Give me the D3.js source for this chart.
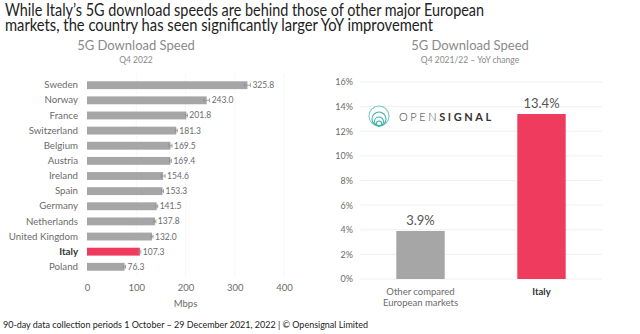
<!DOCTYPE html>
<html>
<head>
<meta charset="utf-8">
<script src="https://cdn.jsdelivr.net/npm/d3@7"></script>
<style>
  html, body { margin: 0; padding: 0; background: #fff; }
  svg { display: block; font-family: Lato, "Open Sans", sans-serif; }
</style>
</head>
<body>
<svg id="chart" width="640" height="334"></svg>
<script>
/* Opensignal 5G download speed: Q4 2022 + YoY change */

const countries = ['Sweden', 'Norway', 'France', 'Switzerland', 'Belgium', 'Austria', 'Ireland',
    'Spain', 'Germany', 'Netherlands', 'United Kingdom', 'Italy', 'Poland'];
const speeds = [325.8, 243.0, 201.8, 181.3, 169.5, 169.4, 154.6, 153.3, 141.5, 137.8, 132.0, 107.3, 76.3];
const speedErr = [6, 6, 2, 2, 3, 2, 4, 2, 2, 2, 2, 2, 2];
const speedTicks = [0, 100, 200, 300, 400];

const yoyGroups = ['Other compared|European markets', 'Italy'];
const yoyValues = [3.9, 13.4];
const yoyTicks = [0, 2, 4, 6, 8, 10, 12, 14, 16];

const GREY = '#a6a6a6';
const RED = '#ef3b5e';
const TEXT = '#6b6b6b';

const svg = d3.select('#chart');

// Headline (one text, two lines)
const headline = svg.append('text')
    .attr('font-size', 16.5).attr('fill', '#222');
headline.append('tspan')
    .attr('x', 5).attr('y', 15.5)
    .attr('textLength', 479).attr('lengthAdjust', 'spacingAndGlyphs')
    .text('While Italy\u2019s 5G download speeds are behind those of other major European');
headline.append('tspan')
    .attr('x', 5).attr('y', 31)
    .attr('textLength', 428).attr('lengthAdjust', 'spacingAndGlyphs')
    .text('markets, the country has seen significantly larger YoY improvement');

// Panel titles
function panelTitle(cx, sub) {
    svg.append('text').attr('x', cx).attr('y', 50)
        .attr('text-anchor', 'middle').attr('font-size', 13).attr('fill', '#8a8a8a')
        .text('5G Download Speed');
    svg.append('text').attr('x', cx).attr('y', 63)
        .attr('text-anchor', 'middle').attr('font-size', 8.5).attr('fill', '#8a8a8a')
        .text(sub);
}
panelTitle(136, 'Q4 2022');
panelTitle(470, 'Q4 2021/22 \u2013 YoY change');

// ---- Left: horizontal bars
const x = d3.scaleLinear().domain([0, 400]).range([87, 284]);
const y = d3.scaleBand().domain(countries).range([74, 278]).padding(0.48);

const left = svg.append('g');

left.append('g')
    .selectAll('line')
    .data(speedTicks.slice(1))
    .join('line')
    .attr('x1', d => x(d)).attr('x2', d => x(d))
    .attr('y1', 74).attr('y2', 278)
    .attr('stroke', '#ececec').attr('stroke-width', 0.8)
    .attr('stroke-dasharray', '1,1');

left.append('g')
    .selectAll('rect')
    .data(countries)
    .join('rect')
    .attr('x', x(0))
    .attr('y', d => y(d))
    .attr('width', (d, i) => x(speeds[i]) - x(0))
    .attr('height', y.bandwidth())
    .attr('fill', d => d === 'Italy' ? RED : GREY);

// confidence whiskers
left.append('g')
    .selectAll('path')
    .data(countries)
    .join('path')
    .attr('d', (d, i) => {
        const cy = y(d) + y.bandwidth() / 2;
        const a = x(speeds[i] - speedErr[i]), b = x(speeds[i] + speedErr[i]);
        return `M${a},${cy}H${b}M${a},${cy - 2}V${cy + 2}M${b},${cy - 2}V${cy + 2}`;
    })
    .attr('stroke', '#8e8e8e').attr('stroke-width', 0.8).attr('fill', 'none');

left.append('g')
    .selectAll('text')
    .data(countries)
    .join('text')
    .attr('x', (d, i) => x(speeds[i] + speedErr[i]) + 2)
    .attr('y', d => y(d) + y.bandwidth() / 2)
    .attr('dy', '0.35em')
    .attr('font-size', 8.5).attr('fill', TEXT)
    .text((d, i) => speeds[i].toFixed(1));

const yAxis = left.append('g')
    .attr('transform', `translate(${x(0) - 9},0)`)
    .call(d3.axisLeft(y).tickSize(0).tickPadding(0));
yAxis.select('.domain').remove();
yAxis.selectAll('text')
    .attr('font-size', 9.7).attr('fill', d => d === 'Italy' ? '#333' : TEXT)
    .attr('font-weight', d => d === 'Italy' ? 'bold' : 'normal')
    .attr('font-family', 'Lato, "Open Sans", sans-serif');

const xAxis = left.append('g')
    .attr('transform', 'translate(0,284)')
    .call(d3.axisBottom(x).tickValues(speedTicks).tickSize(0).tickPadding(0));
xAxis.select('.domain').remove();
xAxis.selectAll('text')
    .attr('dy', '0.71em')
    .attr('font-size', 9.5).attr('fill', TEXT)
    .attr('font-family', 'Lato, "Open Sans", sans-serif');

left.append('text')
    .attr('x', x(200)).attr('y', 307)
    .attr('text-anchor', 'middle').attr('font-size', 9.5).attr('fill', TEXT)
    .text('Mbps');

// ---- Right: YoY vertical bars
const xb = d3.scaleBand().domain(yoyGroups).range([360, 602]).paddingInner(0.6).paddingOuter(0.3);
const yv = d3.scaleLinear().domain([0, 16]).range([279, 82]);

const right = svg.append('g');

right.append('g')
    .selectAll('line')
    .data(yoyTicks)
    .join('line')
    .attr('x1', 360).attr('x2', 602)
    .attr('y1', d => yv(d)).attr('y2', d => yv(d))
    .attr('stroke', '#ececec').attr('stroke-width', 0.8);

const yvAxis = right.append('g')
    .attr('transform', 'translate(353,0)')
    .call(d3.axisLeft(yv).tickValues(yoyTicks).tickFormat(d => d + '%').tickSize(0).tickPadding(0));
yvAxis.select('.domain').remove();
yvAxis.selectAll('text')
    .attr('font-size', 9).attr('fill', TEXT)
    .attr('font-family', 'Lato, "Open Sans", sans-serif');

right.append('g')
    .selectAll('rect')
    .data(yoyGroups)
    .join('rect')
    .attr('x', d => xb(d))
    .attr('y', (d, i) => yv(yoyValues[i]))
    .attr('width', xb.bandwidth())
    .attr('height', (d, i) => yv(0) - yv(yoyValues[i]))
    .attr('fill', d => d === 'Italy' ? RED : GREY);

right.append('g')
    .selectAll('text')
    .data(yoyGroups)
    .join('text')
    .attr('x', d => xb(d) + xb.bandwidth() / 2)
    .attr('y', (d, i) => yv(yoyValues[i]) - 6)
    .attr('text-anchor', 'middle').attr('font-size', 13).attr('fill', '#555')
    .text((d, i) => yoyValues[i].toFixed(1) + '%');

right.append('g')
    .selectAll('text')
    .data(yoyGroups)
    .join('text')
    .attr('x', d => xb(d) + xb.bandwidth() / 2)
    .attr('y', 295)
    .attr('text-anchor', 'middle').attr('font-size', 9.5)
    .attr('fill', d => d === 'Italy' ? '#333' : TEXT)
    .attr('font-weight', d => d === 'Italy' ? 'bold' : 'normal')
    .each(function (d) {
        d.split('|').forEach((line, k) => {
            d3.select(this).append('tspan')
                .attr('x', xb(d) + xb.bandwidth() / 2)
                .attr('dy', k === 0 ? 0 : 10.5)
                .text(line);
        });
    });

// Opensignal logo
const logo = svg.append('g').attr('transform', 'translate(379,116)');
[10, 7, 4.5, 2.5].forEach((r, i) => {
    logo.append('circle')
        .attr('cx', 0).attr('cy', i === 0 ? 0 : 10 - r)
        .attr('r', r)
        .attr('fill', 'none')
        .attr('stroke', i === 0 ? '#7fc8c6' : '#3fb0a8')
        .attr('stroke-width', 1.1);
});
const logoText = logo.append('text')
    .attr('x', 20).attr('y', 4.5)
    .attr('font-size', 11).attr('letter-spacing', 2.6).attr('fill', '#333');
logoText.append('tspan').attr('font-weight', 300).text('OPEN');
logoText.append('tspan').attr('font-weight', 'bold').text('SIGNAL');

// Footer
svg.append('text')
    .attr('x', 3).attr('y', 328)
    .attr('font-size', 9).attr('fill', '#222')
    .attr('textLength', 365).attr('lengthAdjust', 'spacingAndGlyphs')
    .text('90-day data collection periods 1 October \u2013 29 December 2021, 2022 | \u00a9 Opensignal Limited');
</script>
</body>
</html>
